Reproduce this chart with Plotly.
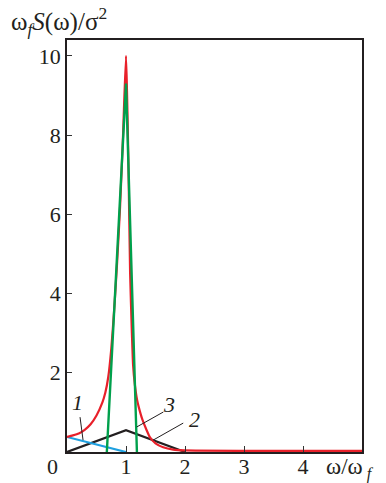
import plotly.graph_objects as go

# ---- data ----
red_x = [0.0, 0.1, 0.2, 0.3, 0.4, 0.5, 0.6, 0.65, 0.7, 0.75, 0.8, 0.85, 0.9, 0.95, 1.0,
         1.02, 1.04, 1.07, 1.1, 1.12, 1.15, 1.19, 1.25, 1.28, 1.35, 1.41, 1.5, 1.63, 1.8, 2.0, 3.0, 4.0, 5.0]
red_y = [0.38, 0.42, 0.47, 0.56, 0.70, 0.92, 1.25, 1.5, 1.9, 2.6, 3.6, 4.8, 6.2, 8.0, 10.0,
         8.9, 7.4, 4.5, 3.0, 2.2, 1.7, 1.3, 0.95, 0.81, 0.55, 0.36, 0.22, 0.12, 0.06, 0.04, 0.03, 0.03, 0.03]

green_x = [0.675, 1.0, 1.185]
green_y = [0.0, 9.3, 0.0]

black_x = [0.0, 1.0, 2.0]
black_y = [0.0, 0.55, 0.0]

blue_x = [0.0, 1.0]
blue_y = [0.38, 0.0]

x_ticks = [0, 1, 2, 3, 4]
x_tick_text = ["", "1", "2", "3", "4"]
y_ticks = [0, 2, 4, 6, 8, 10]
y_tick_text = ["", "2", "4", "6", "8", "10"]

curve_labels = ["1", "3", "2"]
label_pos = [(0.17, 1.24), (1.73, 1.19), (2.16, 0.83)]
leader_lines = [((0.221, 0.88), (0.272, 0.30)),
                ((1.633, 1.01), (1.18, 0.63)),
                ((1.97, 0.73), (1.46, 0.30))]

FONT = "Liberation Serif, Times New Roman, serif"
INK = "#231f20"

W, H = 386, 483
L, R, T, B = 67, 24, 40, 31
pw, ph = W - L - R, H - T - B


def px2paper(px, py):
    return (px - L) / pw, (H - B - py) / ph


fig = go.Figure()
fig.add_trace(go.Scatter(x=black_x, y=black_y, mode="lines",
                         line=dict(color=INK, width=2.2), hoverinfo="skip"))
fig.add_trace(go.Scatter(x=blue_x, y=blue_y, mode="lines",
                         line=dict(color="#1ea0e0", width=2.2), hoverinfo="skip"))
fig.add_trace(go.Scatter(x=red_x, y=red_y, mode="lines",
                         line=dict(color="#e8202a", width=2.2, shape="spline", smoothing=0.6),
                         hoverinfo="skip"))
fig.add_trace(go.Scatter(x=green_x, y=green_y, mode="lines",
                         line=dict(color="#00a04c", width=2.4), hoverinfo="skip"))

for (x0, y0), (x1, y1) in leader_lines:
    fig.add_shape(type="line", x0=x0, y0=y0, x1=x1, y1=y1, xref="x", yref="y",
                  line=dict(color=INK, width=1))

annotations = []
for t, (x, y) in zip(curve_labels, label_pos):
    annotations.append(dict(x=x, y=y, xref="x", yref="y", text="<i>" + t + "</i>",
                            showarrow=False, xanchor="center", yanchor="middle",
                            font=dict(family=FONT, size=22, color=INK)))

ox, oy = px2paper(52, 466)
annotations.append(dict(x=ox, y=oy, xref="paper", yref="paper", text="0", showarrow=False,
                        xanchor="center", yanchor="middle",
                        font=dict(family=FONT, size=22, color=INK)))
tx, ty = px2paper(9, 21)
annotations.append(dict(x=tx, y=ty, xref="paper", yref="paper",
                        text="ω<sub><i>f</i></sub><i>S</i>(ω)/σ<sup>2</sup>",
                        showarrow=False, xanchor="left", yanchor="middle",
                        font=dict(family=FONT, size=25, color=INK)))
lx, ly = px2paper(324, 468)
annotations.append(dict(x=lx, y=ly, xref="paper", yref="paper",
                        text="ω/ω<sub> <i>f</i></sub>",
                        showarrow=False, xanchor="left", yanchor="middle",
                        font=dict(family=FONT, size=23, color=INK)))

fig.update_layout(
    width=W, height=H, autosize=False,
    margin=dict(l=L, r=R, t=T, b=B, autoexpand=False),
    plot_bgcolor="white", paper_bgcolor="white",
    showlegend=False,
    annotations=annotations,
    font=dict(family=FONT, size=22, color=INK),
)
fig.update_xaxes(range=[0, 5], tickvals=x_ticks, ticktext=x_tick_text,
                 ticks="inside", ticklen=6, tickwidth=1.2, tickcolor="#333",
                 ticklabelstandoff=-6,
                 showline=True, linecolor=INK, linewidth=1.5, mirror=True, automargin=False,
                 showgrid=False, zeroline=False, tickfont=dict(family=FONT, size=22))
fig.update_yaxes(range=[0, 10.4], tickvals=y_ticks, ticktext=y_tick_text,
                 ticks="inside", ticklen=5, tickwidth=1.2, tickcolor="#333",
                 showline=True, linecolor=INK, linewidth=1.5, mirror=True, automargin=False,
                 showgrid=False, zeroline=False, tickfont=dict(family=FONT, size=22))

fig.write_html("out.html", config={"displayModeBar": False, "responsive": False},
               post_script="document.body.style.margin='0';document.body.style.overflow='hidden';")
